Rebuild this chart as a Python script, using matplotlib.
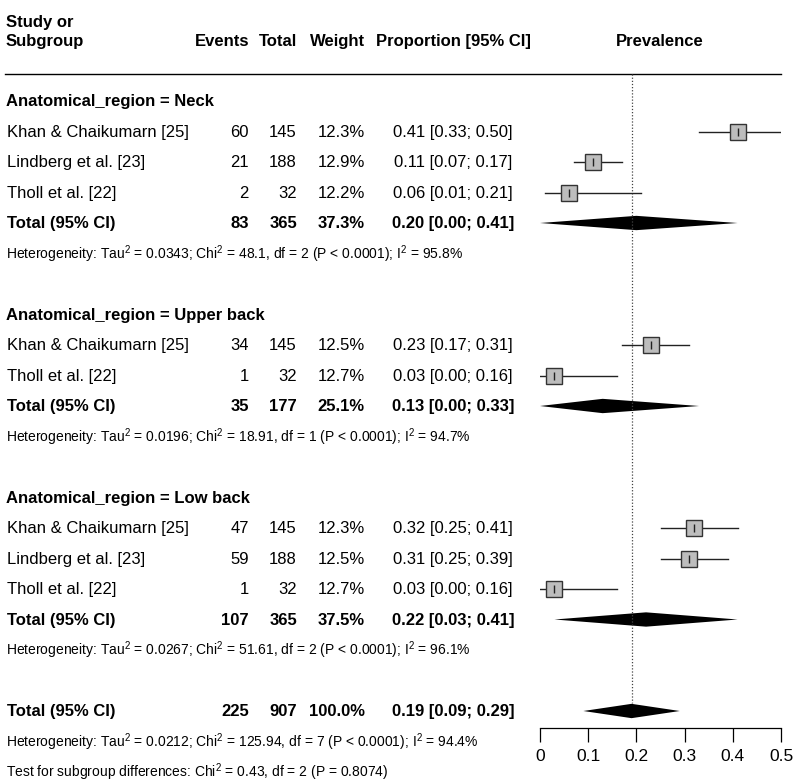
import matplotlib.pyplot as plt

plt.rcParams['font.family'] = ['Liberation Sans', 'DejaVu Sans']
plt.rcParams['mathtext.fontset'] = 'custom'
plt.rcParams['mathtext.rm'] = 'Liberation Sans'
plt.rcParams['mathtext.it'] = 'Liberation Sans:italic'

# study level data, one entry per row in the plot
groups = ["Neck", "Upper back", "Low back"]
studies = [
    ["Khan & Chaikumarn [25]", "Lindberg et al. [23]", "Tholl et al. [22]"],
    ["Khan & Chaikumarn [25]", "Tholl et al. [22]"],
    ["Khan & Chaikumarn [25]", "Lindberg et al. [23]", "Tholl et al. [22]"],
]
events = [[60, 21, 2], [34, 1], [47, 59, 1]]
totals = [[145, 188, 32], [145, 32], [145, 188, 32]]
weights = [[12.3, 12.9, 12.2], [12.5, 12.7], [12.3, 12.5, 12.7]]
props = [[0.41, 0.11, 0.06], [0.23, 0.03], [0.32, 0.31, 0.03]]
lower = [[0.33, 0.07, 0.01], [0.17, 0.00], [0.25, 0.25, 0.00]]
upper = [[0.50, 0.17, 0.21], [0.31, 0.16], [0.41, 0.39, 0.16]]

# subgroup totals
grp_events = [83, 35, 107]
grp_totals = [365, 177, 365]
grp_weights = [37.3, 25.1, 37.5]
grp_prop = [0.20, 0.13, 0.22]
grp_lower = [0.00, 0.00, 0.03]
grp_upper = [0.41, 0.33, 0.41]
grp_het = [
    r"Heterogeneity: Tau$^2$ = 0.0343; Chi$^2$ = 48.1, df = 2 (P < 0.0001); I$^2$ = 95.8%",
    r"Heterogeneity: Tau$^2$ = 0.0196; Chi$^2$ = 18.91, df = 1 (P < 0.0001); I$^2$ = 94.7%",
    r"Heterogeneity: Tau$^2$ = 0.0267; Chi$^2$ = 51.61, df = 2 (P < 0.0001); I$^2$ = 96.1%",
]

# overall
all_events, all_total, all_weight = 225, 907, 100.0
all_prop, all_lower, all_upper = 0.19, 0.09, 0.29
all_het = r"Heterogeneity: Tau$^2$ = 0.0212; Chi$^2$ = 125.94, df = 7 (P < 0.0001); I$^2$ = 94.4%"
subgroup_test = r"Test for subgroup differences: Chi$^2$ = 0.43, df = 2 (P = 0.8074)"

xticks = [0, 0.1, 0.2, 0.3, 0.4, 0.5]

W, H = 794, 783
ROW0, STEP = 101, 30.5  # pixel y of first row, row spacing


def r(py):
    return (py - ROW0) / STEP


fig = plt.figure(figsize=(W / 100, H / 100), dpi=100)

# text layer: x in pixels, y in rows
tx = fig.add_axes([0, 0, 1, 1])
tx.set_xlim(0, W)
tx.set_ylim(r(H), r(0))
tx.axis('off')

# forest panel: x in proportion, y in rows
top_px, bot_px, left_px, right_px = 74, 728, 540, 781
ax = fig.add_axes([left_px / W, (H - bot_px) / H, (right_px - left_px) / W, (bot_px - top_px) / H])
ax.set_xlim(0, 0.5)
ax.set_ylim(r(bot_px), r(top_px))
ax.patch.set_alpha(0)
for s in ['top', 'left', 'right']:
    ax.spines[s].set_visible(False)
ax.spines['bottom'].set_bounds(0, 0.5)
ax.spines['bottom'].set_linewidth(0.9)
ax.set_yticks([])
ax.set_xticks(xticks)
ax.set_xticklabels([f"{t:g}" for t in xticks])
ax.tick_params(axis='x', length=10, width=0.9, labelsize=12.5, pad=5)

FS = 12
HS = 10
off = 0.18  # baseline offset

C_EV, C_TOT, C_W, C_P = 249, 297, 365, 453


def put(x, row, s, ha='left', bold=False, size=FS):
    tx.text(x, row + off, s, ha=ha, va='baseline', fontsize=size,
            fontweight='bold' if bold else 'normal')


# headers
put(6, r(22), "Study or", bold=True)
put(6, r(41), "Subgroup", bold=True)
put(C_EV, r(41), "Events", ha='right', bold=True)
put(C_TOT, r(41), "Total", ha='right', bold=True)
put(C_W, r(41), "Weight", ha='right', bold=True)
put(C_P, r(41), "Proportion [95% CI]", ha='center', bold=True)
put(660, r(41), "Prevalence", ha='center', bold=True)
tx.plot([5, 781], [r(74), r(74)], color='black', lw=1)


def diamond(row, est, lo, hi):
    h = 0.235
    ax.fill([lo, est, hi, est], [row, row - h, row, row + h], color='black', lw=0)


def row_text(row, label, ev, tot, w, p, lo, hi, bold=False):
    put(7, row, label, bold=bold)
    put(C_EV, row, str(ev), ha='right', bold=bold)
    put(C_TOT, row, str(tot), ha='right', bold=bold)
    put(C_W, row, f"{w:.1f}%", ha='right', bold=bold)
    put(C_P, row, f"{p:.2f} [{lo:.2f}; {hi:.2f}]", ha='center', bold=bold)


row = 0
for g in range(len(groups)):
    put(6, row, f"Anatomical_region = {groups[g]}", bold=True)
    row += 1
    for i in range(len(studies[g])):
        row_text(row, studies[g][i], events[g][i], totals[g][i], weights[g][i],
                 props[g][i], lower[g][i], upper[g][i])
        ax.plot([lower[g][i], upper[g][i]], [row, row], color='#222222', lw=1, zorder=2)
        ax.plot(props[g][i], row, marker='s', ms=11.5 * (weights[g][i] / 12.5) ** 0.5,
                mfc='#bdbdbd', mec='#333333', mew=1, zorder=3)
        ax.plot(props[g][i], row, marker='|', ms=6, mec='#222222', mew=1, zorder=4)
        row += 1
    row_text(row, "Total (95% CI)", grp_events[g], grp_totals[g], grp_weights[g],
             grp_prop[g], grp_lower[g], grp_upper[g], bold=True)
    diamond(row, grp_prop[g], grp_lower[g], grp_upper[g])
    row += 1
    put(6, row, grp_het[g], size=HS)
    row += 2

row_text(row, "Total (95% CI)", all_events, all_total, all_weight,
         all_prop, all_lower, all_upper, bold=True)
diamond(row, all_prop, all_lower, all_upper)
put(6, row + 1, all_het, size=HS)
put(6, row + 2, subgroup_test, size=HS)

# reference line at the overall estimate
ax.plot([all_prop, all_prop], [r(top_px), row - 0.25], color='#444444', lw=0.9,
        ls=(0, (1, 1.5)), zorder=1, clip_on=False)

fig.savefig("out.png", dpi=100)
